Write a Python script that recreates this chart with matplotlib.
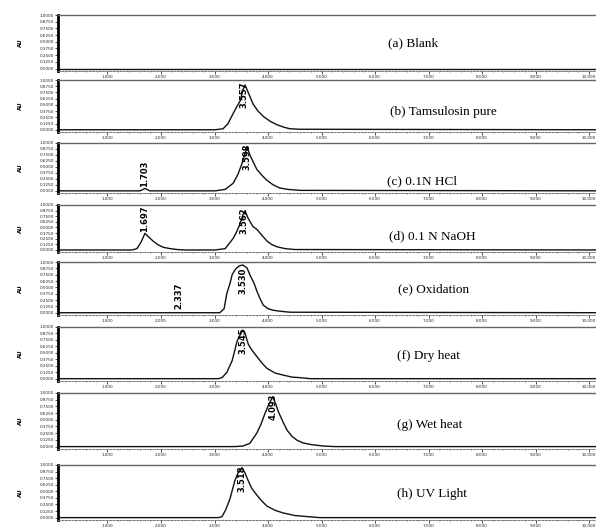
import numpy as np
import matplotlib.pyplot as plt
from matplotlib.ticker import MultipleLocator, FormatStrFormatter

# stacked HPLC chromatograms of tamsulosin under stress conditions
# time in minutes, signal as fraction of each panel's full scale

labels = ['(a) Blank', '(b) Tamsulosin pure', '(c) 0.1N HCl', '(d) 0.1 N NaOH',
          '(e) Oxidation', '(f) Dry heat', '(g) Wet heat', '(h) UV Light']

t_a = [0.05, 10.2]
y_a = [0.0, 0.0]

t_b = [0.05, 3.01, 3.16, 3.25, 3.35, 3.42, 3.48, 3.53, 3.57, 3.63, 3.72, 3.81,
       3.91, 4.04, 4.17, 4.30, 4.41, 4.60, 10.2]
y_b = [0.0, 0.0, 0.02, 0.12, 0.33, 0.47, 0.58, 0.80, 0.90, 0.75, 0.52, 0.38,
       0.27, 0.17, 0.10, 0.05, 0.02, 0.01, 0.0]

t_c = [0.05, 1.61, 1.70, 1.79, 3.01, 3.20, 3.35, 3.44, 3.51, 3.57, 3.61, 3.66,
       3.79, 3.89, 3.98, 4.09, 4.22, 4.37, 4.60, 10.2]
y_c = [0.0, 0.0, 0.05, 0.0, 0.0, 0.03, 0.16, 0.35, 0.56, 0.78, 0.92, 0.75,
       0.45, 0.32, 0.22, 0.13, 0.06, 0.03, 0.01, 0.0]

t_d = [0.05, 1.46, 1.55, 1.63, 1.70, 1.76, 1.85, 1.94, 2.04, 2.17, 2.30, 2.45,
       3.01, 3.20, 3.35, 3.42, 3.48, 3.53, 3.57, 3.63, 3.72, 3.79, 3.89, 3.98,
       4.07, 4.17, 4.32, 4.50, 10.2]
y_d = [0.0, 0.0, 0.03, 0.18, 0.37, 0.30, 0.20, 0.12, 0.06, 0.03, 0.01, 0.0,
       0.0, 0.03, 0.26, 0.42, 0.59, 0.78, 0.87, 0.70, 0.52, 0.46, 0.32, 0.20,
       0.12, 0.07, 0.03, 0.01, 0.0]

t_e = [0.05, 3.10, 3.18, 3.23, 3.29, 3.33, 3.38, 3.42, 3.48, 3.53, 3.61, 3.66,
       3.74, 3.79, 3.85, 3.91, 4.00, 4.09, 4.22, 4.41, 10.2]
y_e = [0.0, 0.0, 0.08, 0.38, 0.58, 0.75, 0.84, 0.89, 0.93, 0.94, 0.88, 0.75,
       0.58, 0.43, 0.28, 0.15, 0.08, 0.05, 0.03, 0.01, 0.0]

t_f = [0.05, 3.07, 3.14, 3.23, 3.33, 3.38, 3.42, 3.48, 3.53, 3.57, 3.63, 3.70,
       3.79, 3.89, 3.98, 4.13, 4.28, 4.45, 4.60, 4.79, 10.2]
y_f = [0.0, 0.0, 0.02, 0.12, 0.35, 0.55, 0.72, 0.85, 0.94, 0.88, 0.67, 0.55,
       0.43, 0.30, 0.20, 0.11, 0.07, 0.03, 0.02, 0.0, 0.0]

t_g = [0.05, 3.38, 3.53, 3.66, 3.79, 3.87, 3.94, 4.02, 4.09, 4.15, 4.19, 4.28,
       4.36, 4.45, 4.54, 4.65, 4.79, 5.03, 5.25, 10.2]
y_g = [0.0, 0.0, 0.01, 0.06, 0.25, 0.42, 0.61, 0.80, 0.93, 0.78, 0.66, 0.46,
       0.30, 0.19, 0.12, 0.07, 0.04, 0.01, 0.0, 0.0]

t_h = [0.05, 3.07, 3.14, 3.21, 3.29, 3.38, 3.44, 3.51, 3.57, 3.63, 3.70, 3.79,
       3.89, 3.98, 4.13, 4.28, 4.50, 4.73, 4.97, 10.2]
y_h = [0.0, 0.0, 0.02, 0.15, 0.36, 0.70, 0.85, 0.95, 0.85, 0.70, 0.55, 0.43,
       0.31, 0.22, 0.14, 0.09, 0.04, 0.02, 0.0, 0.0]

traces = [(t_a, y_a), (t_b, y_b), (t_c, y_c), (t_d, y_d),
          (t_e, y_e), (t_f, y_f), (t_g, y_g), (t_h, y_h)]

# retention time annotations: (panel, time, y, text, anchor)
peak_rt = [(1, 3.55, 0.97, '3.557', 'top'),
           (2, 1.70, 0.07, '1.703', 'bottom'),
           (2, 3.60, 0.99, '3.598', 'top'),
           (3, 1.70, 0.40, '1.697', 'bottom'),
           (3, 3.56, 0.94, '3.562', 'top'),
           (4, 2.34, 0.08, '2.337', 'bottom'),
           (4, 3.53, 0.88, '3.530', 'top'),
           (5, 3.54, 0.99, '3.545', 'top'),
           (6, 4.09, 0.99, '4.093', 'top'),
           (7, 3.52, 1.00, '3.518', 'top')]

# panel extents in pixels (top, bottom)
rows = [(15, 71), (80, 132), (143, 193), (205, 252),
        (262, 315), (327, 381), (393, 449), (465, 520)]
text_xy = [(388, 43), (390, 112), (387, 181), (389, 236),
           (398, 289), (397, 356), (397, 425), (397, 494)]

W, H = 596, 527
fig = plt.figure(figsize=(W / 100, H / 100), dpi=100)
plt.rcParams['font.family'] = ['DejaVu Sans']

axes = []
for i, ((top, bot), (t, y)) in enumerate(zip(rows, traces)):
    ax = fig.add_axes([58 / W, 1 - bot / H, 1 - 58 / W, (bot - top) / H])
    ax.plot(t, y, color='#111111', lw=1.0)
    ax.set_xlim(0.075, 10.13)
    ax.set_ylim(-0.045, 1.0)
    ax.spines['right'].set_visible(False)
    ax.spines['top'].set_color('#666666')
    ax.spines['top'].set_linewidth(1.0)
    ax.spines['left'].set_linewidth(2.0)
    ax.spines['bottom'].set_color('#777777')
    ax.spines['bottom'].set_linestyle((0, (2, 1.5)))
    ax.spines['bottom'].set_linewidth(0.7)
    ax.xaxis.set_major_locator(MultipleLocator(1.0))
    ax.xaxis.set_minor_locator(MultipleLocator(0.2))
    ax.xaxis.set_major_formatter(FormatStrFormatter('%.3f'))
    ax.yaxis.set_major_locator(MultipleLocator(0.125))
    ax.yaxis.set_minor_locator(MultipleLocator(0.025))
    ax.yaxis.set_major_formatter(FormatStrFormatter('%.4f'))
    ax.tick_params(axis='both', which='major', labelsize=3, length=2, width=0.6,
                   pad=0.8, colors='#333333', labelcolor='#222222')
    ax.tick_params(axis='both', which='minor', length=1, width=0.5, colors='#555555')
    fig.text(20 / W, 1 - (top + bot) / 2 / H, 'AU', fontsize=4, weight='bold',
             rotation=90, ha='center', va='center')
    tx, ty = text_xy[i]
    fig.text(tx / W, 1 - ty / H, labels[i], family='Liberation Serif',
             fontsize=9.5, ha='left', va='center')
    axes.append(ax)

for p, rt, yy, txt, anchor in peak_rt:
    axes[p].text(rt, yy, txt, rotation=90, fontsize=6, weight='bold',
                 ha='center', va=anchor, color='black')

fig.savefig('out.png', dpi=100, facecolor='white')
